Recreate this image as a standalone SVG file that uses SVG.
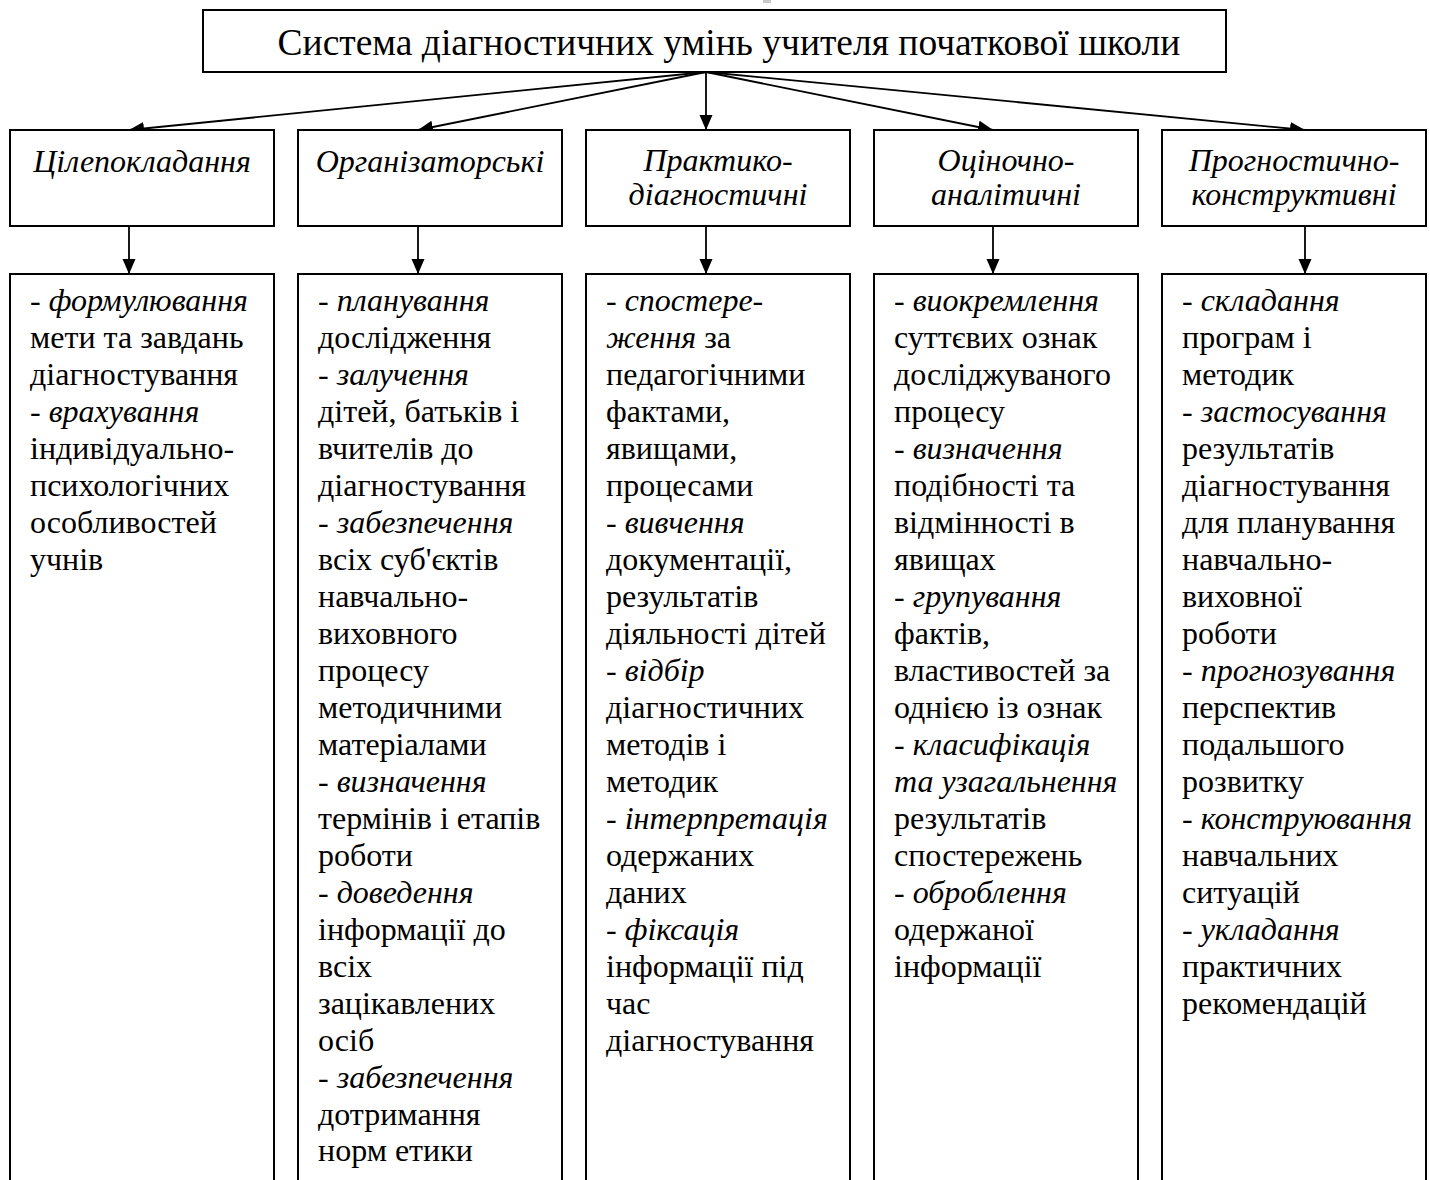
<svg xmlns="http://www.w3.org/2000/svg" width="1430" height="1180" viewBox="0 0 1430 1180">
<defs>
<marker id="ah" markerUnits="userSpaceOnUse" markerWidth="16" markerHeight="14" refX="15" refY="6.5" orient="auto">
<path d="M0,0 L15,6.5 L0,13 z" fill="#000"/>
</marker>
<style>
.box{fill:#fff;stroke:#000;stroke-width:2}
.con{stroke:#000;stroke-width:1.8;fill:none;marker-end:url(#ah)}
text{font-family:"Liberation Serif","Times New Roman",serif;fill:#000}
.title{font-size:37.5px;text-anchor:middle}
.hd{font-size:32px;font-style:italic;text-anchor:middle}
.bd{font-size:32px}
.i{font-style:italic}
</style>
</defs>
<rect width="1430" height="1180" fill="#fff"/>
<rect x="763" y="0" width="8" height="3" fill="#c8c8c8"/>
<g id="root">
<rect class="box" x="203" y="10" width="1023" height="62"/>
<text class="title" x="729" y="55">Система діагностичних умінь учителя початкової школи</text>
</g>
<g id="connectors">
<line class="con" x1="706" y1="72" x2="129" y2="130"/>
<line class="con" x1="706" y1="72" x2="418" y2="130"/>
<line class="con" x1="706" y1="72" x2="706" y2="130"/>
<line class="con" x1="706" y1="72" x2="993" y2="130"/>
<line class="con" x1="706" y1="72" x2="1305" y2="130"/>
<line class="con" x1="129" y1="226" x2="129" y2="274"/>
<line class="con" x1="418" y1="226" x2="418" y2="274"/>
<line class="con" x1="706" y1="226" x2="706" y2="274"/>
<line class="con" x1="993" y1="226" x2="993" y2="274"/>
<line class="con" x1="1305" y1="226" x2="1305" y2="274"/>
</g>
<g id="h1"><rect class="box" x="10" y="130" width="264" height="96"/><text class="hd" x="142" y="172">Цілепокладання</text></g>
<g id="h2"><rect class="box" x="298" y="130" width="264" height="96"/><text class="hd" x="430" y="172">Організаторські</text></g>
<g id="h3"><rect class="box" x="586" y="130" width="264" height="96"/><text class="hd"><tspan x="718" y="171">Практико-</tspan><tspan x="718" y="205">діагностичні</tspan></text></g>
<g id="h4"><rect class="box" x="874" y="130" width="264" height="96"/><text class="hd"><tspan x="1006" y="171">Оціночно-</tspan><tspan x="1006" y="205">аналітичні</tspan></text></g>
<g id="h5"><rect class="box" x="1162" y="130" width="264" height="96"/><text class="hd"><tspan x="1294" y="171">Прогностично-</tspan><tspan x="1294" y="205">конструктивні</tspan></text></g>

<g id="c1"><rect class="box" x="10" y="274" width="264" height="930"/>
<text class="bd"><tspan x="30" y="311">- <tspan class="i">формулювання</tspan></tspan><tspan x="30" y="348">мети та завдань</tspan><tspan x="30" y="385">діагностування</tspan><tspan x="30" y="422">- <tspan class="i">врахування</tspan></tspan><tspan x="30" y="459">індивідуально-</tspan><tspan x="30" y="496">психологічних</tspan><tspan x="30" y="533">особливостей</tspan><tspan x="30" y="570">учнів</tspan></text>
</g>
<g id="c2"><rect class="box" x="298" y="274" width="264" height="930"/>
<text class="bd"><tspan x="318" y="311">- <tspan class="i">планування</tspan></tspan><tspan x="318" y="348">дослідження</tspan><tspan x="318" y="385">- <tspan class="i">залучення</tspan></tspan><tspan x="318" y="422">дітей, батьків і</tspan><tspan x="318" y="459">вчителів до</tspan><tspan x="318" y="496">діагностування</tspan><tspan x="318" y="533">- <tspan class="i">забезпечення</tspan></tspan><tspan x="318" y="570">всіх суб'єктів</tspan><tspan x="318" y="607">навчально-</tspan><tspan x="318" y="644">виховного</tspan><tspan x="318" y="681">процесу</tspan><tspan x="318" y="718">методичними</tspan><tspan x="318" y="755">матеріалами</tspan><tspan x="318" y="792">- <tspan class="i">визначення</tspan></tspan><tspan x="318" y="829">термінів і етапів</tspan><tspan x="318" y="866">роботи</tspan><tspan x="318" y="903">- <tspan class="i">доведення</tspan></tspan><tspan x="318" y="940">інформації до</tspan><tspan x="318" y="977">всіх</tspan><tspan x="318" y="1014">зацікавлених</tspan><tspan x="318" y="1051">осіб</tspan><tspan x="318" y="1088">- <tspan class="i">забезпечення</tspan></tspan><tspan x="318" y="1125">дотримання</tspan><tspan x="318" y="1161">норм етики</tspan></text>
</g>
<g id="c3"><rect class="box" x="586" y="274" width="264" height="930"/>
<text class="bd"><tspan x="606" y="311">- <tspan class="i">спостере-</tspan></tspan><tspan x="606" y="348"><tspan class="i">ження</tspan> за</tspan><tspan x="606" y="385">педагогічними</tspan><tspan x="606" y="422">фактами,</tspan><tspan x="606" y="459">явищами,</tspan><tspan x="606" y="496">процесами</tspan><tspan x="606" y="533">- <tspan class="i">вивчення</tspan></tspan><tspan x="606" y="570">документації,</tspan><tspan x="606" y="607">результатів</tspan><tspan x="606" y="644">діяльності дітей</tspan><tspan x="606" y="681">- <tspan class="i">відбір</tspan></tspan><tspan x="606" y="718">діагностичних</tspan><tspan x="606" y="755">методів і</tspan><tspan x="606" y="792">методик</tspan><tspan x="606" y="829">- <tspan class="i">інтерпретація</tspan></tspan><tspan x="606" y="866">одержаних</tspan><tspan x="606" y="903">даних</tspan><tspan x="606" y="940">- <tspan class="i">фіксація</tspan></tspan><tspan x="606" y="977">інформації під</tspan><tspan x="606" y="1014">час</tspan><tspan x="606" y="1051">діагностування</tspan></text>
</g>
<g id="c4"><rect class="box" x="874" y="274" width="264" height="930"/>
<text class="bd"><tspan x="894" y="311">- <tspan class="i">виокремлення</tspan></tspan><tspan x="894" y="348">суттєвих ознак</tspan><tspan x="894" y="385">досліджуваного</tspan><tspan x="894" y="422">процесу</tspan><tspan x="894" y="459">- <tspan class="i">визначення</tspan></tspan><tspan x="894" y="496">подібності та</tspan><tspan x="894" y="533">відмінності в</tspan><tspan x="894" y="570">явищах</tspan><tspan x="894" y="607">- <tspan class="i">групування</tspan></tspan><tspan x="894" y="644">фактів,</tspan><tspan x="894" y="681">властивостей за</tspan><tspan x="894" y="718">однією із ознак</tspan><tspan x="894" y="755">- <tspan class="i">класифікація</tspan></tspan><tspan x="894" y="792" class="i">та узагальнення</tspan><tspan x="894" y="829">результатів</tspan><tspan x="894" y="866">спостережень</tspan><tspan x="894" y="903">- <tspan class="i">оброблення</tspan></tspan><tspan x="894" y="940">одержаної</tspan><tspan x="894" y="977">інформації</tspan></text>
</g>
<g id="c5"><rect class="box" x="1162" y="274" width="264" height="930"/>
<text class="bd"><tspan x="1182" y="311">- <tspan class="i">складання</tspan></tspan><tspan x="1182" y="348">програм і</tspan><tspan x="1182" y="385">методик</tspan><tspan x="1182" y="422">- <tspan class="i">застосування</tspan></tspan><tspan x="1182" y="459">результатів</tspan><tspan x="1182" y="496">діагностування</tspan><tspan x="1182" y="533">для планування</tspan><tspan x="1182" y="570">навчально-</tspan><tspan x="1182" y="607">виховної</tspan><tspan x="1182" y="644">роботи</tspan><tspan x="1182" y="681">- <tspan class="i">прогнозування</tspan></tspan><tspan x="1182" y="718">перспектив</tspan><tspan x="1182" y="755">подальшого</tspan><tspan x="1182" y="792">розвитку</tspan><tspan x="1182" y="829">- <tspan class="i">конструювання</tspan></tspan><tspan x="1182" y="866">навчальних</tspan><tspan x="1182" y="903">ситуацій</tspan><tspan x="1182" y="940">- <tspan class="i">укладання</tspan></tspan><tspan x="1182" y="977">практичних</tspan><tspan x="1182" y="1014">рекомендацій</tspan></text>
</g>
</svg>
